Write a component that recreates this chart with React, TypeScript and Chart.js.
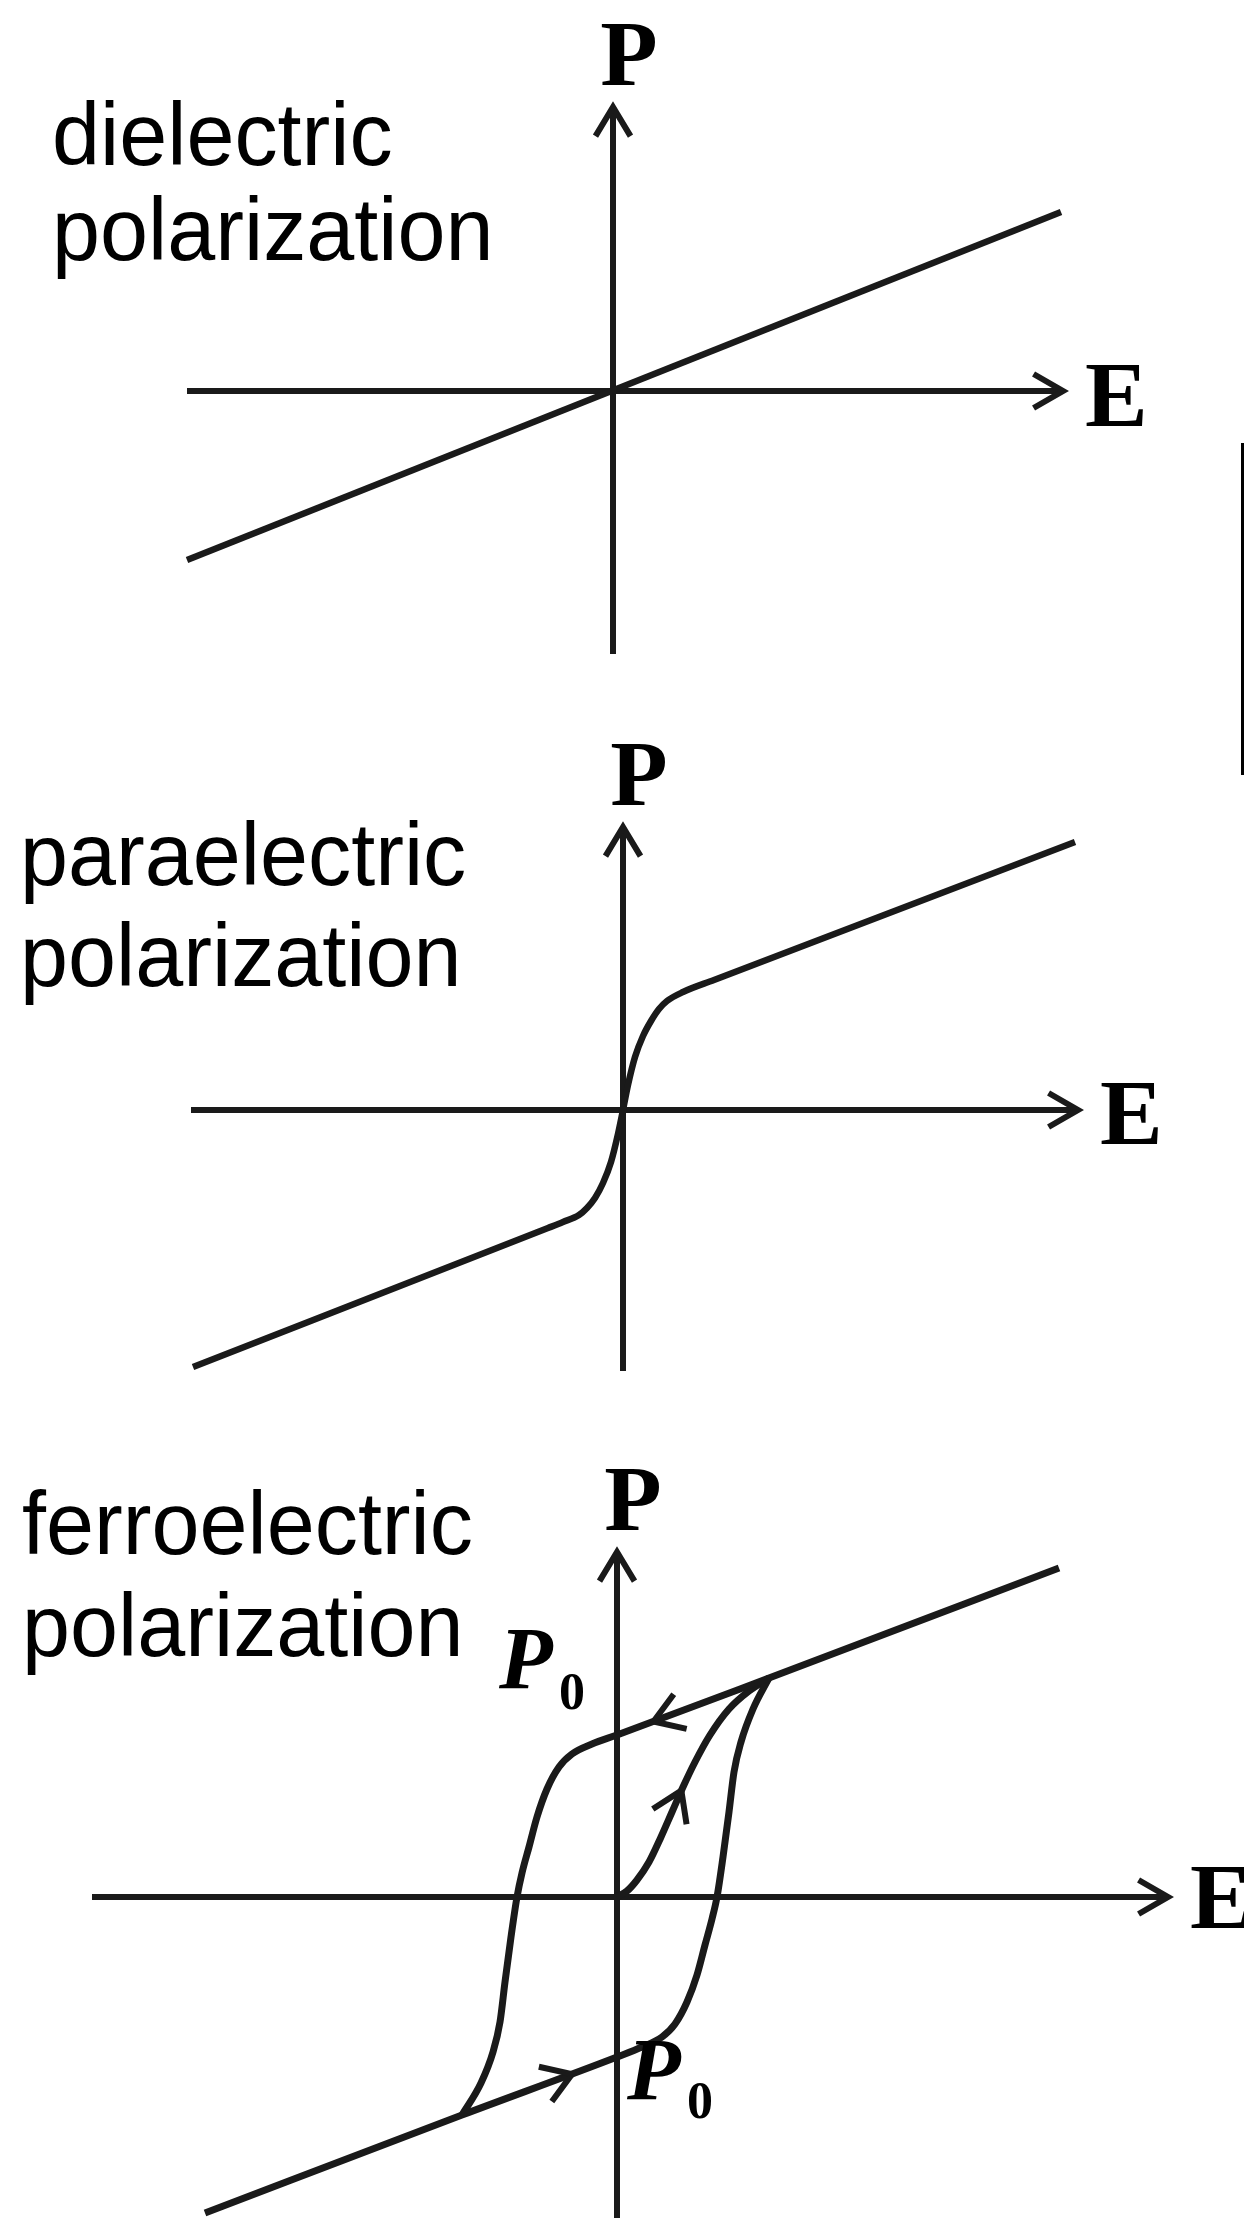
import React, { useEffect, useRef } from "react";
import { Chart, registerables } from "chart.js";

Chart.register(...registerables);

// ---- data (E horizontal, P vertical, arbitrary units) ----

// dielectric: linear response through the origin
const dielectricE = [-4.26, 4.48];
const dielectricP = [-1.69, 1.79];

// paraelectric: steep rise around E = 0, linear beyond
const paraE = [-4.3, -0.75, -0.6, -0.44, -0.36, -0.28, -0.2, -0.12, -0.05, 0, 0.05, 0.12, 0.2, 0.28, 0.36, 0.44, 0.6, 0.91, 4.52];
const paraP = [-2.57, -1.18, -1.12, -1.05, -0.98, -0.88, -0.73, -0.52, -0.24, 0, 0.25, 0.53, 0.74, 0.89, 1.01, 1.09, 1.18, 1.3, 2.68];

// ferroelectric hysteresis: branch travelled with decreasing E
const descendingE = [4.42, 1.52, 0, -0.25, -0.45, -0.58, -0.7, -0.8, -0.88, -0.95, -1.0, -1.06, -1.12, -1.17, -1.24, -1.36, -1.55];
const descendingP = [3.29, 2.19, 1.62, 1.53, 1.43, 1.3, 1.08, 0.8, 0.5, 0.24, 0, -0.4, -0.85, -1.25, -1.55, -1.86, -2.18];

// branch travelled with increasing E
const ascendingE = [-4.12, -1.55, 0, 0.25, 0.45, 0.58, 0.7, 0.8, 0.88, 0.95, 1.0, 1.06, 1.12, 1.17, 1.24, 1.36, 1.52];
const ascendingP = [-3.16, -2.18, -1.6, -1.5, -1.4, -1.27, -1.05, -0.78, -0.48, -0.22, 0, 0.4, 0.85, 1.25, 1.55, 1.88, 2.19];

// first polarisation curve starting from the unpolarised state
const initialE = [0, 0.1, 0.2, 0.32, 0.44, 0.55, 0.66, 0.78, 0.93, 1.12, 1.32, 1.52];
const initialP = [0, 0.06, 0.17, 0.35, 0.6, 0.85, 1.1, 1.35, 1.62, 1.88, 2.06, 2.19];

// remanent polarisation +P0 / -P0 (E = 0 crossings of the loop)
const remanentP = [1.62, -1.6];

const INK = "#1a1a1a";
const WIDTH = 1244;

type Series = { E: number[]; P: number[] };
type CurveArrow = { dataset: number; segment: number; t: number };

type PanelSpec = {
  top: number;
  height: number;
  padding: { left: number; top: number; right: number; bottom: number };
  xRange: [number, number];
  yRange: [number, number];
  series: Series[];
  curveWidth: number;
  title: string[];
  titleX: number;
  titleBaselines: number[];
  eBaselineOffset: number;
  arrows: CurveArrow[];
  remanent: number[];
};

function chevron(ctx: CanvasRenderingContext2D, tx: number, ty: number, angle: number, len: number, half: number) {
  ctx.beginPath();
  ctx.moveTo(tx - len * Math.cos(angle - half), ty - len * Math.sin(angle - half));
  ctx.lineTo(tx, ty);
  ctx.lineTo(tx - len * Math.cos(angle + half), ty - len * Math.sin(angle + half));
  ctx.stroke();
}

// point and heading on the drawn bezier segment between two line points
function onSegment(p1: any, p2: any, t: number) {
  const c1x = p1.cp2x ?? p1.x;
  const c1y = p1.cp2y ?? p1.y;
  const c2x = p2.cp1x ?? p2.x;
  const c2y = p2.cp1y ?? p2.y;
  const u = 1 - t;
  const x = u * u * u * p1.x + 3 * u * u * t * c1x + 3 * u * t * t * c2x + t * t * t * p2.x;
  const y = u * u * u * p1.y + 3 * u * u * t * c1y + 3 * u * t * t * c2y + t * t * t * p2.y;
  const dx = 3 * u * u * (c1x - p1.x) + 6 * u * t * (c2x - c1x) + 3 * t * t * (p2.x - c2x);
  const dy = 3 * u * u * (c1y - p1.y) + 6 * u * t * (c2y - c1y) + 3 * t * t * (p2.y - c2y);
  return { x, y, angle: Math.atan2(dy, dx) };
}

const AXIS_WIDTH = 6;

const diagramPlugin = {
  id: "diagram",
  beforeDatasetsDraw(chart: any) {
    const ctx: CanvasRenderingContext2D = chart.ctx;
    const area = chart.chartArea;
    const x0 = chart.scales.x.getPixelForValue(0);
    const y0 = chart.scales.y.getPixelForValue(0);
    ctx.save();
    ctx.strokeStyle = INK;
    ctx.lineWidth = AXIS_WIDTH;
    ctx.lineCap = "butt";
    ctx.lineJoin = "miter";
    ctx.beginPath();
    ctx.moveTo(area.left, y0);
    ctx.lineTo(area.right, y0);
    ctx.moveTo(x0, area.bottom);
    ctx.lineTo(x0, area.top);
    ctx.stroke();
    chevron(ctx, area.right, y0, 0, 34, (30 * Math.PI) / 180);
    chevron(ctx, x0, area.top, -Math.PI / 2, 34, (31 * Math.PI) / 180);
    ctx.restore();
  },
  afterDraw(chart: any, _args: any, opts: any) {
    const ctx: CanvasRenderingContext2D = chart.ctx;
    const area = chart.chartArea;
    const xs = chart.scales.x;
    const ys = chart.scales.y;
    const x0 = xs.getPixelForValue(0);
    const y0 = ys.getPixelForValue(0);
    ctx.save();

    // direction arrows on the curves
    ctx.strokeStyle = INK;
    ctx.lineWidth = AXIS_WIDTH;
    ctx.lineCap = "butt";
    ctx.lineJoin = "miter";
    for (const a of opts.arrows as CurveArrow[]) {
      const pts = chart.getDatasetMeta(a.dataset).data;
      const q = onSegment(pts[a.segment], pts[a.segment + 1], a.t);
      chevron(ctx, q.x, q.y, q.angle, 34, (33 * Math.PI) / 180);
    }

    ctx.fillStyle = "#000";
    ctx.textBaseline = "alphabetic";

    // title
    ctx.font = '89px "Liberation Sans", Arial, sans-serif';
    ctx.textAlign = "left";
    (opts.title as string[]).forEach((line, i) => {
      ctx.save();
      ctx.translate(opts.titleX, opts.titleBaselines[i]);
      ctx.scale(0.97, 1);
      ctx.fillText(line, 0, 0);
      ctx.restore();
    });

    // axis names
    ctx.font = 'bold 94px "Liberation Serif", "Times New Roman", serif';
    ctx.textAlign = "center";
    ctx.fillText("P", x0 + 16, area.top - 22);
    ctx.textAlign = "left";
    ctx.fillText("E", area.right + 22, y0 + opts.eBaselineOffset);

    // remanent polarisation labels
    const rem = opts.remanent as number[];
    rem.forEach((val, i) => {
      const yp = ys.getPixelForValue(val);
      const above = i === 0;
      const px = above ? x0 - 118 : x0 + 10;
      const pb = above ? yp - 47 : yp + 42;
      ctx.font = 'italic bold 88px "Liberation Serif", "Times New Roman", serif';
      ctx.fillText("P", px, pb);
      ctx.font = 'bold 52px "Liberation Serif", "Times New Roman", serif';
      ctx.fillText("0", px + 60, pb + (above ? 21 : 19));
    });

    ctx.restore();
  },
};

const panels: PanelSpec[] = [
  {
    top: 0,
    height: 700,
    padding: { left: 187, top: 107, right: WIDTH - 1063, bottom: 46 },
    xRange: [-4.26, 4.5],
    yRange: [-2.63, 2.84],
    series: [{ E: dielectricE, P: dielectricP }],
    curveWidth: 6.5,
    title: ["dielectric", "polarization"],
    titleX: 52,
    titleBaselines: [165, 260],
    eBaselineOffset: 35,
    arrows: [],
    remanent: [],
  },
  {
    top: 700,
    height: 720,
    padding: { left: 191, top: 127, right: WIDTH - 1078, bottom: 49 },
    xRange: [-4.32, 4.55],
    yRange: [-2.61, 2.83],
    series: [{ E: paraE, P: paraP }],
    curveWidth: 6.5,
    title: ["paraelectric", "polarization"],
    titleX: 20,
    titleBaselines: [185, 286],
    eBaselineOffset: 34,
    arrows: [],
    remanent: [],
  },
  {
    top: 1420,
    height: 798,
    padding: { left: 92, top: 132, right: WIDTH - 1168, bottom: 0 },
    xRange: [-5.25, 5.51],
    yRange: [-3.21, 3.45],
    series: [
      { E: descendingE, P: descendingP },
      { E: ascendingE, P: ascendingP },
      { E: initialE, P: initialP },
    ],
    curveWidth: 7,
    title: ["ferroelectric", "polarization"],
    titleX: 22,
    titleBaselines: [134, 236],
    eBaselineOffset: 31,
    arrows: [
      { dataset: 0, segment: 1, t: 0.76 },
      { dataset: 1, segment: 1, t: 0.71 },
      { dataset: 2, segment: 5, t: 0.85 },
    ],
    remanent: remanentP,
  },
];

function Panel({ spec }: { spec: PanelSpec }) {
  const ref = useRef<HTMLCanvasElement>(null);
  useEffect(() => {
    const canvas = ref.current;
    if (!canvas) return;
    const chart = new Chart(canvas, {
      type: "line",
      data: {
        datasets: spec.series.map((s) => ({
          data: s.E.map((e, i) => ({ x: e, y: s.P[i] })),
          borderColor: INK,
          borderWidth: spec.curveWidth,
          pointRadius: 0,
          fill: false,
          tension: 0.4,
          cubicInterpolationMode: "monotone",
          borderCapStyle: "butt",
          borderJoinStyle: "round",
          clip: false,
        })),
      },
      options: {
        animation: false,
        responsive: false,
        maintainAspectRatio: false,
        events: [],
        layout: { padding: spec.padding },
        scales: {
          x: { type: "linear", display: false, min: spec.xRange[0], max: spec.xRange[1] },
          y: { type: "linear", display: false, min: spec.yRange[0], max: spec.yRange[1] },
        },
        plugins: {
          legend: { display: false },
          tooltip: { enabled: false },
          diagram: {
            title: spec.title,
            titleX: spec.titleX,
            titleBaselines: spec.titleBaselines,
            eBaselineOffset: spec.eBaselineOffset,
            arrows: spec.arrows,
            remanent: spec.remanent,
          },
        } as any,
      },
      plugins: [diagramPlugin as any],
    } as any);
    return () => chart.destroy();
  }, [spec]);
  return (
    <canvas
      ref={ref}
      width={WIDTH}
      height={spec.height}
      style={{ position: "absolute", left: 0, top: spec.top, width: WIDTH, height: spec.height }}
    />
  );
}

export default function App() {
  return (
    <div
      style={{
        position: "absolute",
        left: 0,
        top: 0,
        width: WIDTH,
        height: 2218,
        background: "#fff",
        overflow: "hidden",
      }}
    >
      {panels.map((p, i) => (
        <Panel key={i} spec={p} />
      ))}
      <div style={{ position: "absolute", left: 1241, top: 443, width: 3, height: 332, background: "#000" }} />
    </div>
  );
}
